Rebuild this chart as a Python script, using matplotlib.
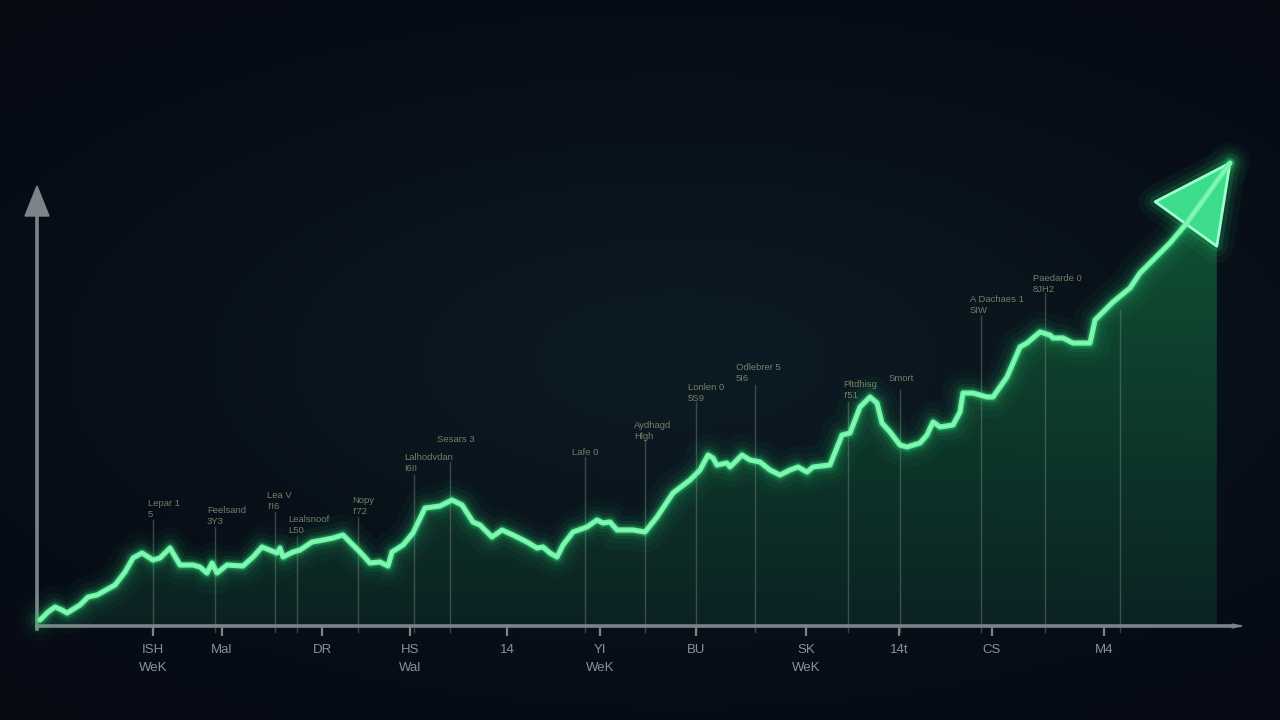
import numpy as np
import matplotlib
matplotlib.use("Agg")
import matplotlib.pyplot as plt
from matplotlib.patches import Polygon

plt.rcParams['font.family'] = ['Liberation Sans', 'DejaVu Sans']

# ---------------- data ----------------
days = [2, 10, 17, 24, 29, 42, 50, 59, 77, 87, 95, 104, 115, 122, 132, 142, 155, 162, 169, 174,
        179, 189, 205, 215, 224, 239, 242, 245, 255, 262, 274, 285, 295, 305, 315, 322, 332, 342, 350, 354,
        365, 375, 387, 395, 402, 414, 424, 435, 442, 454, 464, 475, 489, 499, 505, 512, 519, 525, 535, 549,
        559, 565, 572, 579, 595, 607, 619, 635, 652, 662, 670, 675, 679, 689, 692, 704, 712, 722, 732, 742,
        752, 760, 769, 775, 792, 804, 812, 822, 832, 839, 844, 852, 862, 869, 882, 889, 895, 902, 915, 922,
        925, 935, 949, 955, 969, 982, 989, 1002, 1012, 1015, 1025, 1035, 1052, 1057, 1075, 1092, 1102, 1115,
        1132, 1148, 1192]
values = [6, 14, 19, 16, 13, 21, 29, 31, 41, 54, 68, 73, 66, 68, 78, 61, 61, 59, 53, 63,
          53, 61, 60, 69, 79, 73, 78, 69, 74, 76, 84, 86, 88, 91, 81, 74, 63, 64, 60, 74,
          81, 93, 118, 119, 120, 126, 121, 104, 101, 89, 96, 91, 84, 78, 79, 73, 69, 81, 94, 99,
          106, 103, 104, 96, 96, 94, 109, 133, 146, 156, 171, 168, 161, 163, 159, 171, 166, 164, 156, 151,
          156, 159, 154, 159, 161, 191, 193, 219, 229, 223, 203, 194, 181, 179, 183, 191, 204, 199, 201, 214,
          233, 233, 229, 229, 249, 279, 283, 294, 291, 288, 288, 283, 283, 306, 324, 338, 353, 366,
          383, 402, 463]

tick_pos = [115, 184, 284, 372, 469, 562, 658, 768, 861, 954, 1066]
tick_labels = ["ISH\nWeK", "Mal", "DR", "HS\nWal", "14", "YI\nWeK", "BU", "SK\nWeK", "14t", "CS", "M4"]

marker_x = [115, 177, 237, 259, 320, 376, 412, 547, 607, 658, 717, 810, 862, 943, 1007, 1082]
marker_top = [106, 99, 114, 89, 109, 151, 164, 169, 186, 224, 241, 224, 236, 310, 333, 316]

note_x = [110, 169, 229, 250, 314, 366, 399, 534, 596, 650, 698, 805, 851, 932, 995]
note_y = [127, 120, 135, 111, 130, 173, 191, 178, 205, 243, 263, 246, 252, 331, 352]
note_text = ["Lepar 1\n5", "Feelsand\n3Y3", "Lea V\nI'I6", "Lealsnoof\nL50", "Nopy\nI'72",
             "Lalhodvdan\nI6II", "Sesars 3", "Lafe 0", "Aydhagd\nHlgh", "Lonlen 0\n5S9",
             "Odlebrer 5\n5I6", "Pltdhisg\nI'51", "Smort", "A Dachaes 1\nSIW", "Paedarde 0\n8JH2"]

# ---------------- figure ----------------
W, H = 1280, 720
fig = plt.figure(figsize=(12.8, 7.2), dpi=100)

# background gradient
bg_ax = fig.add_axes([0, 0, 1, 1], zorder=-10)
yy, xx = np.mgrid[0:H, 0:W]
base = np.array([0.024, 0.042, 0.080])
blob = np.exp(-(((xx - 680) / 540.0) ** 2 + ((yy - 360) / 250.0) ** 2))
tint = np.array([0.022, 0.060, 0.055])
img = base[None, None, :] + blob[..., None] * tint[None, None, :]
bg_ax.imshow(np.clip(img, 0, 1), extent=[0, W, H, 0], aspect='auto')
bg_ax.axis('off')

left_px, base_px = 38, 626
ax = fig.add_axes([left_px / W, (H - base_px) / H, (W - left_px) / W, base_px / H])
ax.set_xlim(0, W - left_px)
ax.set_ylim(0, base_px)
ax.patch.set_alpha(0)
for s in ax.spines.values():
    s.set_visible(False)
ax.set_yticks([])

x = np.array(days, float)
y = np.array(values, float)

# arrowhead geometry from the last segment
T = np.array([x[-1], y[-1]])
B = np.array([x[-2], y[-2]])
d = (T - B) / np.linalg.norm(T - B)
n = np.array([d[1], -d[0]])
hw = 38
R = B + hw * n
L = B - hw * n

# fill under curve with gradient
poly_x = list(x[:-1]) + [R[0], R[0], x[0]]
poly_y = list(y[:-1]) + [R[1], 0, 0]
fill_poly = Polygon(np.column_stack([poly_x, poly_y]), closed=True, facecolor='none', edgecolor='none')
ax.add_patch(fill_poly)
gy, gx = np.mgrid[0:300, 0:300]
ty = 1 - gy / 299.0
tx = gx / 299.0
c_low = np.array([0.045, 0.130, 0.130])
c_high = np.array([0.060, 0.330, 0.200])
grad = c_low[None, None, :] * (1 - ty[..., None]) + c_high[None, None, :] * ty[..., None]
grad = grad + 0.015 * tx[..., None] * np.array([0.0, 0.5, 0.6])
im = ax.imshow(np.clip(grad, 0, 1), extent=[0, R[0], 0, 470], origin='upper',
               aspect='auto', zorder=1)
im.set_clip_path(fill_poly)

# vertical marker lines
for mx, mt in zip(marker_x, marker_top):
    ax.plot([mx, mx], [-6, mt], color='#7a8580', alpha=0.45, lw=1.0, zorder=2, clip_on=False)

# notes
for nx, ny, nt in zip(note_x, note_y, note_text):
    ax.text(nx, ny, nt, color='#8c9a78', alpha=0.8, fontsize=6.8, ha='left', va='top',
            linespacing=1.35, zorder=3)

# axes lines
axis_col = '#7d8389'
ax.plot([-3, 1196], [0, 0], color=axis_col, lw=2.6, solid_capstyle='butt', zorder=4, clip_on=False)
ax.add_patch(Polygon([[1194, -1.9], [1204, 0], [1194, 1.9]], closed=True, color=axis_col,
                     zorder=4, clip_on=False))
ax.plot([-1, -1], [-3, 412], color=axis_col, lw=2.6, zorder=4, clip_on=False)
ax.add_patch(Polygon([[-13, 410], [-1, 440], [11, 410]], closed=True, color=axis_col,
                     zorder=4, clip_on=False))

# glow for line
glow_col = '#2fe07c'
for lw, a in [(30, 0.035), (20, 0.055), (13, 0.09), (8.5, 0.15), (6, 0.25)]:
    ax.plot(x, y, color=glow_col, lw=lw, alpha=a, solid_joinstyle='round',
            solid_capstyle='round', zorder=5, clip_on=False)

# arrowhead with glow
tri = np.array([T, L, R])
for lw, a in [(24, 0.05), (15, 0.08), (8, 0.14)]:
    ax.add_patch(Polygon(tri, closed=True, facecolor='none', edgecolor=glow_col, lw=lw,
                         alpha=a, joinstyle='round', zorder=5, clip_on=False))
ax.add_patch(Polygon(tri, closed=True, facecolor='#3cdc8c', edgecolor='#9dffd0', lw=2.0,
                     joinstyle='round', zorder=6, clip_on=False))

# main line
ax.plot(x, y, color='#6ff3a6', lw=3.8, solid_joinstyle='round', solid_capstyle='round',
        zorder=7, clip_on=False)
ax.plot(x, y, color='#a8ffd0', lw=1.1, alpha=0.5, solid_joinstyle='round', zorder=7, clip_on=False)

# ticks
ax.set_xticks(tick_pos)
ax.set_xticklabels(tick_labels, fontsize=9.5, color='#8a9095', linespacing=1.65)
ax.tick_params(axis='x', direction='out', length=7, width=1.6, color=axis_col, pad=6)

fig.savefig('out.png', dpi=100, facecolor=fig.get_facecolor())
